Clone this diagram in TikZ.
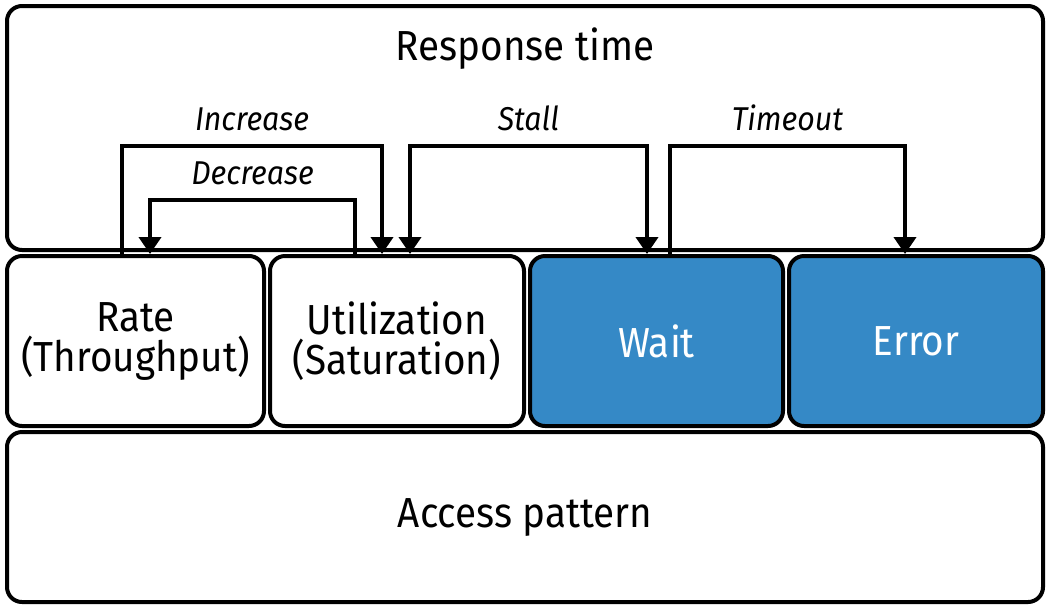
\documentclass[tikz,border=0pt]{standalone}
\usepackage{fontspec}
\setmainfont{Fira Sans}[FakeStretch=0.92]
\usepackage{xcolor}
\usetikzlibrary{arrows.meta,positioning}
\definecolor{waitblue}{HTML}{3589C6}
\tikzset{
  box/.style ={draw, line width=2pt, rounded corners=7.5pt, align=center, fill=white, inner sep=0pt, font=\fontsize{21}{20}\selectfont},
  hl/.style  ={box, fill=waitblue, text=white},
  arr/.style ={-{Triangle[length=8.5pt,width=11pt]}, line width=2pt},
  lbl/.style ={font=\fontsize{16.5}{16}\selectfont\itshape, above=3pt},
}

\begin{document}
\begin{tikzpicture}[x=0.5pt, y=-0.5pt]
  \useasboundingbox (0,0) rectangle (1048,606);
  \node[box, minimum width=518pt, minimum height=122pt,
    label={[anchor=north, yshift=-8.5pt, font=\fontsize{21}{20}\selectfont]north:Response time}] (resp) at (525,128) {};
  \node[box, minimum width=128.5pt, minimum height=85pt] (rate) at (135.5,341) {Rate\\(Throughput)};
  \node[box, minimum width=127pt, minimum height=85pt] (util) at (397,341) {Utilization\\(Saturation)};
  \node[hl, minimum width=126.5pt, minimum height=85pt] (wait) at (656.5,341) {Wait};
  \node[hl, minimum width=127pt, minimum height=85pt] (err) at (916,341) {Error};
  \node[box, minimum width=518pt, minimum height=85pt] (acc) at (525,517) {Access pattern};
  \draw[arr] ([xshift=-6.75pt]rate.north) -- ++(0,-108) -- node[lbl]{Increase} ++(260,0) -- ([xshift=-7.5pt]util.north);
  \draw[arr] ([xshift=-21pt]util.north) -- ++(0,-54) -- node[lbl]{Decrease} ++(-205,0) -- ([xshift=7.25pt]rate.north);
  \draw[arr, {Triangle[length=8.5pt,width=11pt]}-{Triangle[length=8.5pt,width=11pt]}] ([xshift=6.5pt]util.north) -- ++(0,-108) -- node[lbl]{Stall} ++(237,0) -- ([xshift=-4.75pt]wait.north);
  \draw[arr] ([xshift=6.75pt]wait.north) -- ++(0,-108) -- node[lbl]{Timeout} ++(235,0) -- ([xshift=-5.5pt]err.north);
\end{tikzpicture}
\end{document}
